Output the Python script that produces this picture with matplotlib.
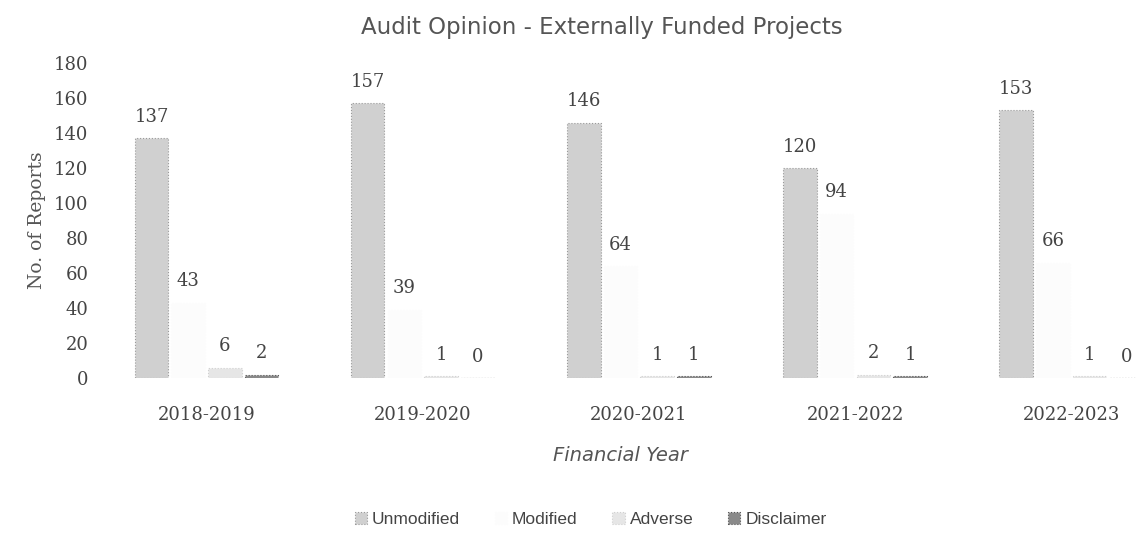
import numpy as np
import matplotlib.pyplot as plt

years = ["2018-2019", "2019-2020", "2020-2021", "2021-2022", "2022-2023"]
series = ["Unmodified", "Modified", "Adverse", "Disclaimer"]
unmodified = [137, 157, 146, 120, 153]
modified = [43, 39, 64, 94, 66]
adverse = [6, 1, 1, 2, 1]
disclaimer = [2, 0, 1, 1, 0]

values = [unmodified, modified, adverse, disclaimer]
colors = ["#d0d0d0", "#fcfcfc", "#e6e6e6", "#8a8a8a"]
edges = ["#9a9a9a", "#fcfcfc", "#d0d0d0", "#555555"]

txt = "#444444"
serif = "DejaVu Serif"
sans = "DejaVu Sans"

fig = plt.figure(figsize=(11.36, 5.37), dpi=100)
ax = fig.add_axes([105 / 1136, 1 - 378 / 537, 1031 / 1136, 315 / 537])

x = np.arange(len(years))
step = 0.17
width = 0.155
for i, (name, vals) in enumerate(zip(series, values)):
    pos = x + (i - 1.5) * step
    bars = ax.bar(pos, vals, width, color=colors[i], edgecolor=edges[i],
                  linewidth=0.8, linestyle=":", label=name)
    for b, v in zip(bars, vals):
        ax.annotate(str(v), (b.get_x() + b.get_width() / 2, v),
                    xytext=(0, 9), textcoords="offset points",
                    ha="center", va="bottom", fontsize=13,
                    family=serif, color=txt)

ax.set_xlim(-0.47, 4.30)
ax.set_ylim(0, 180)
ax.set_yticks(np.arange(0, 181, 20))
ax.set_xticks(x)
ax.set_xticklabels(years, fontsize=13, family=serif, color=txt)
ax.tick_params(axis="y", labelsize=13, colors=txt, length=0, pad=12)
ax.tick_params(axis="x", length=0, pad=20)
for lab in ax.get_yticklabels():
    lab.set_family(serif)
for s in ax.spines.values():
    s.set_visible(False)

ax.set_ylabel("No. of Reports", fontsize=13.5, family=serif, color="#555555", labelpad=6)
ax.set_xlabel("Financial Year", fontsize=14, family=sans, style="italic",
              color="#555555", labelpad=16)

fig.suptitle("Audit Opinion - Externally Funded Projects", x=0.53, y=0.97,
             fontsize=16.5, family=sans, color="#555555")

fig.legend(loc="lower center", bbox_to_anchor=(0.52, -0.01), ncol=4, frameon=False,
           prop={"family": "Liberation Sans", "size": 12.5}, handlelength=0.7,
           handleheight=0.7, handletextpad=0.3, columnspacing=2.0, labelcolor=txt)

fig.savefig("out.png", dpi=100)
